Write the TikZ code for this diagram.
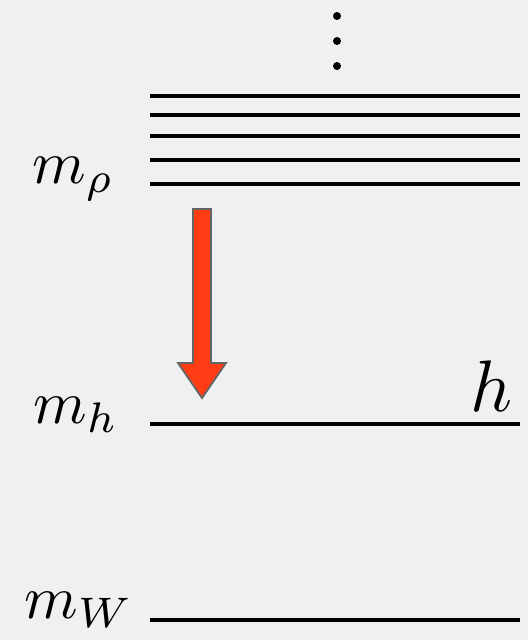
\documentclass[tikz,border=0pt]{standalone}
\definecolor{bg}{RGB}{239,240,242}
\definecolor{arrowred}{RGB}{255,60,20}
\definecolor{arrowedge}{RGB}{100,100,100}
\tikzset{
  level/.style={line width=3.6pt, black},
  lbl/.style={anchor=base west, inner sep=0pt, scale=6.1},
  biglbl/.style={anchor=base west, inner sep=0pt, scale=7.3},
  dotmark/.style={fill=black, draw=none},
  downarrow/.style={fill=arrowred, draw=arrowedge, line width=1.8pt, line join=miter}
}
\begin{document}
\begin{tikzpicture}[x=1pt,y=-1pt]
\fill[bg] (0,0) rectangle (528,640);
\useasboundingbox (0,0) rectangle (528,640);
% dots
\fill[dotmark] (337,16) circle (4);
\fill[dotmark] (337,41) circle (4);
\fill[dotmark] (337,66) circle (4);
% rho levels
\foreach \yy/\nm in {96/a,115/b,136/c,160/d,184/e}{
  \coordinate (l\nm) at (150,\yy);
  \coordinate (r\nm) at (520,\yy);
  \draw[level] (l\nm) -- (r\nm);
}
% h level
\coordinate (lh) at (150,424);
\coordinate (rh) at (520,424);
\draw[level] (lh) -- (rh);
% W level
\coordinate (lw) at (150,620);
\coordinate (rw) at (520,620);
\draw[level] (lw) -- (rw);
% labels
\node[lbl] (mrho) at (31,183) {$m_\rho$};
\node[lbl] (mh) at (32,423) {$m_h$};
\node[lbl] (mw) at (23,618) {$m_W$};
\node[biglbl] (hl) at (469,411) {$h$};
% arrow
\draw[downarrow] (193,209) -- (211,209) -- (211,363) -- (226,363) -- (202,398) -- (178,363) -- (193,363) -- cycle;
\end{tikzpicture}
\end{document}
